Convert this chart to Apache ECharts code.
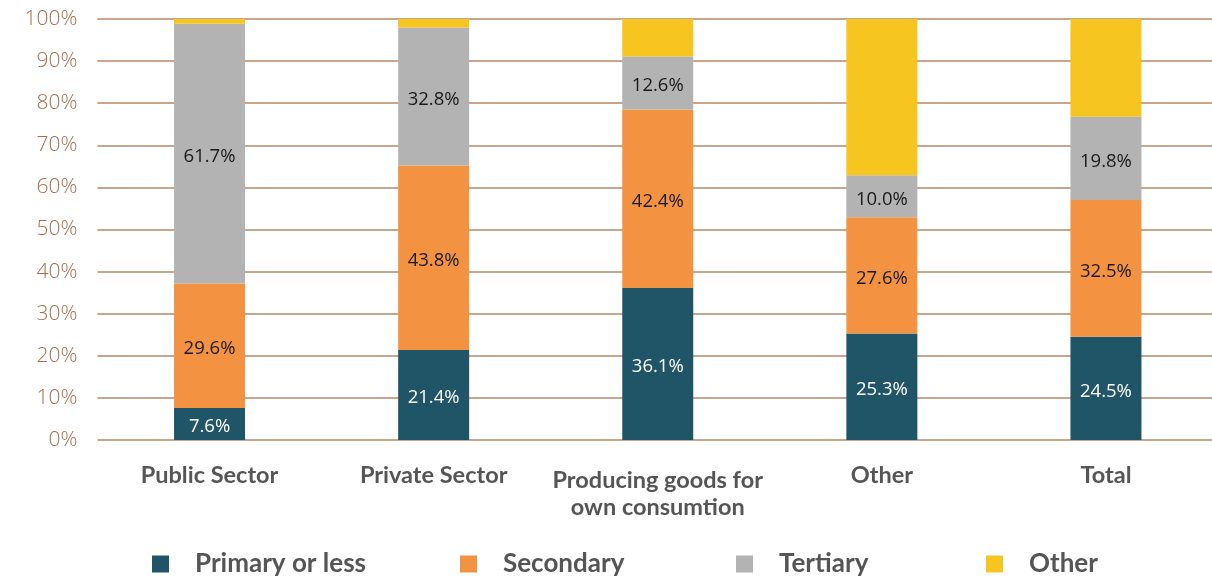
<!DOCTYPE html>
<html>
<head>
<meta charset="utf-8">
<style>
  html, body { margin: 0; padding: 0; background: #ffffff; overflow: hidden; }
  #chart { width: 1218px; height: 579px; }
</style>
<script src="https://cdn.jsdelivr.net/npm/echarts@6/dist/echarts.min.js"></script>
</head>
<body>
<div id="chart"></div>
<script>
// Employment sector by education level (share of workers, %)
const categories = ['Public Sector', 'Private Sector', 'Producing goods for\nown consumtion', 'Other', 'Total'];
const primaryOrLess = [7.6, 21.4, 36.1, 25.3, 24.5];
const secondary = [29.6, 43.8, 42.4, 27.6, 32.5];
const tertiary = [61.7, 32.8, 12.6, 10.0, 19.8];
const other = [1.1, 2.0, 8.9, 37.1, 23.2];
const seriesNames = ['Primary or less', 'Secondary', 'Tertiary', 'Other'];
const seriesColors = ['#1f5566', '#f39341', '#b3b3b3', '#f6c51f'];

const chart = echarts.init(document.getElementById('chart'), null, { renderer: 'canvas' });

const valueLabel = (color, show) => ({
  show: show,
  position: 'inside',
  offset: [0, 3],
  color: color,
  fontFamily: '"Open Sans", sans-serif',
  fontSize: 18.5,
  formatter: p => p.value.toFixed(1) + '%'
});

const dataSets = [primaryOrLess, secondary, tertiary, other];
const labelColors = ['#ffffff', '#1a1a1a', '#1a1a1a', '#1a1a1a'];

const series = dataSets.map((d, i) => ({
  name: seriesNames[i],
  type: 'bar',
  stack: 'total',
  barWidth: 71,
  data: d,
  itemStyle: { color: seriesColors[i] },
  label: valueLabel(labelColors[i], i < 3),
  emphasis: { disabled: true }
}));

const legendLefts = [152, 460, 736, 986];
const legends = seriesNames.map((n, i) => ({
  data: [n],
  left: legendLefts[i],
  top: 551,
  padding: 0,
  itemWidth: 17,
  itemHeight: 17,
  icon: 'rect',
  selectedMode: false,
  textStyle: {
    color: '#555555',
    fontFamily: 'Lato, sans-serif',
    fontWeight: 'bold',
    fontSize: 26,
    padding: [0, 0, 0, 21]
  }
}));

// two-line category names sit a little lower
const categoryData = categories.map(c => (
  c.includes('\n') ? { value: c, textStyle: { padding: [6, 0, 0, 0], lineHeight: 27 } } : c
));

chart.setOption({
  animation: false,
  legend: legends,
  grid: { left: 97.5, right: 0, top: 19, height: 421, containLabel: false },
  xAxis: {
    type: 'category',
    data: categoryData,
    axisLine: { show: false },
    axisTick: { show: false },
    axisLabel: {
      interval: 0,
      margin: 21,
      color: '#555555',
      fontFamily: 'Lato, sans-serif',
      fontWeight: 'bold',
      fontSize: 23.5,
      lineHeight: 28
    }
  },
  yAxis: {
    type: 'value',
    min: 0,
    max: 100,
    interval: 10,
    axisLine: { show: false },
    axisTick: { show: false },
    splitLine: { lineStyle: { color: '#c9a58c', width: 2 } },
    axisLabel: {
      margin: 20,
      color: '#a66e4f',
      fontFamily: '"Open Sans", sans-serif',
      fontWeight: 300,
      fontSize: 21,
      formatter: '{value}%'
    }
  },
  series: series
});
</script>
</body>
</html>
